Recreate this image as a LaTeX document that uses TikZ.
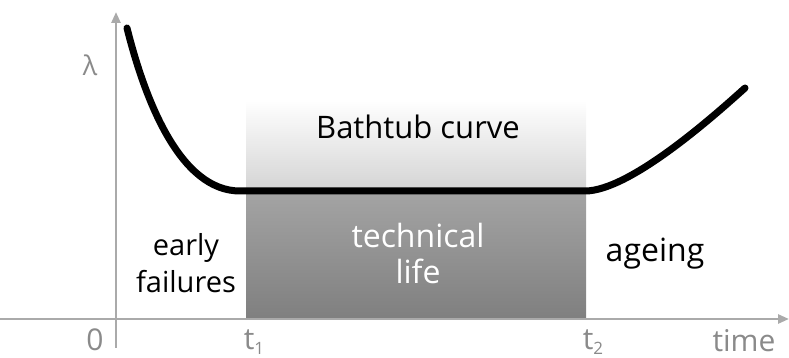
\documentclass[tikz,border=0pt]{standalone}
\usepackage{fontspec}
\setmainfont{Open Sans}
\usetikzlibrary{arrows.meta}
\definecolor{axisgray}{HTML}{AAAAAA}
\definecolor{labelgray}{HTML}{8A8A8A}
\newcommand{\tsub}[1]{t\raisebox{-0.3ex}{\fontsize{17}{17}\selectfont #1}}
\tikzset{
  axis/.style={draw=axisgray, line width=2.6pt, -{Triangle[width=9pt,length=11pt]}},
  axlabel/.style={text=labelgray, font=\fontsize{30}{34}\selectfont, inner sep=0pt},
  phase/.style={font=\fontsize{29}{37}\selectfont, align=center, inner sep=0pt},
  big/.style={font=\fontsize{32}{36}\selectfont}
}
\tikzset{curve/.style={line width=7pt, line cap=round, line join=round}}
\begin{document}
\begin{tikzpicture}[x=1pt, y=1pt]
  \useasboundingbox (0,0) rectangle (789,358);
  % useful-life band and fade above it
  \shade[top color=white, bottom color=black!17] (246,258) rectangle (586,167);
  \shade[top color=black!36, bottom color=black!50] (246,164) rectangle (586,40);
  % axes
  \draw[axis] (0,39) -- (789,39);
  \draw[axis] (116,10) -- (116,346);
  % failure rate curve
  \draw[curve] (127,330) .. controls (145,258) and (180,167) .. (240,167)
     -- (585,167) .. controls (630,167) and (715,243) .. (745,270);
  % labels
  \node[axlabel, font=\fontsize{27}{30}\selectfont] (lam) at (90,293) {λ};
  \node[axlabel] (zero) at (95,18) {0};
  \node[axlabel, anchor=base] (t1) at (254,8) {\tsub{1}};
  \node[axlabel, anchor=base] (t2) at (593,8) {\tsub{2}};
  \node[axlabel] (time) at (744,17) {time};
  \node[phase, font=\fontsize{31}{36}\selectfont] (title) at (418,231) {Bathtub curve};
  \node[phase, big, text=white] (life) at (418,104) {technical\\life};
  \node[phase] (early) at (186,95) {early\\failures};
  \node[phase, big] (ageing) at (655,104) {ageing};
\end{tikzpicture}
\end{document}
